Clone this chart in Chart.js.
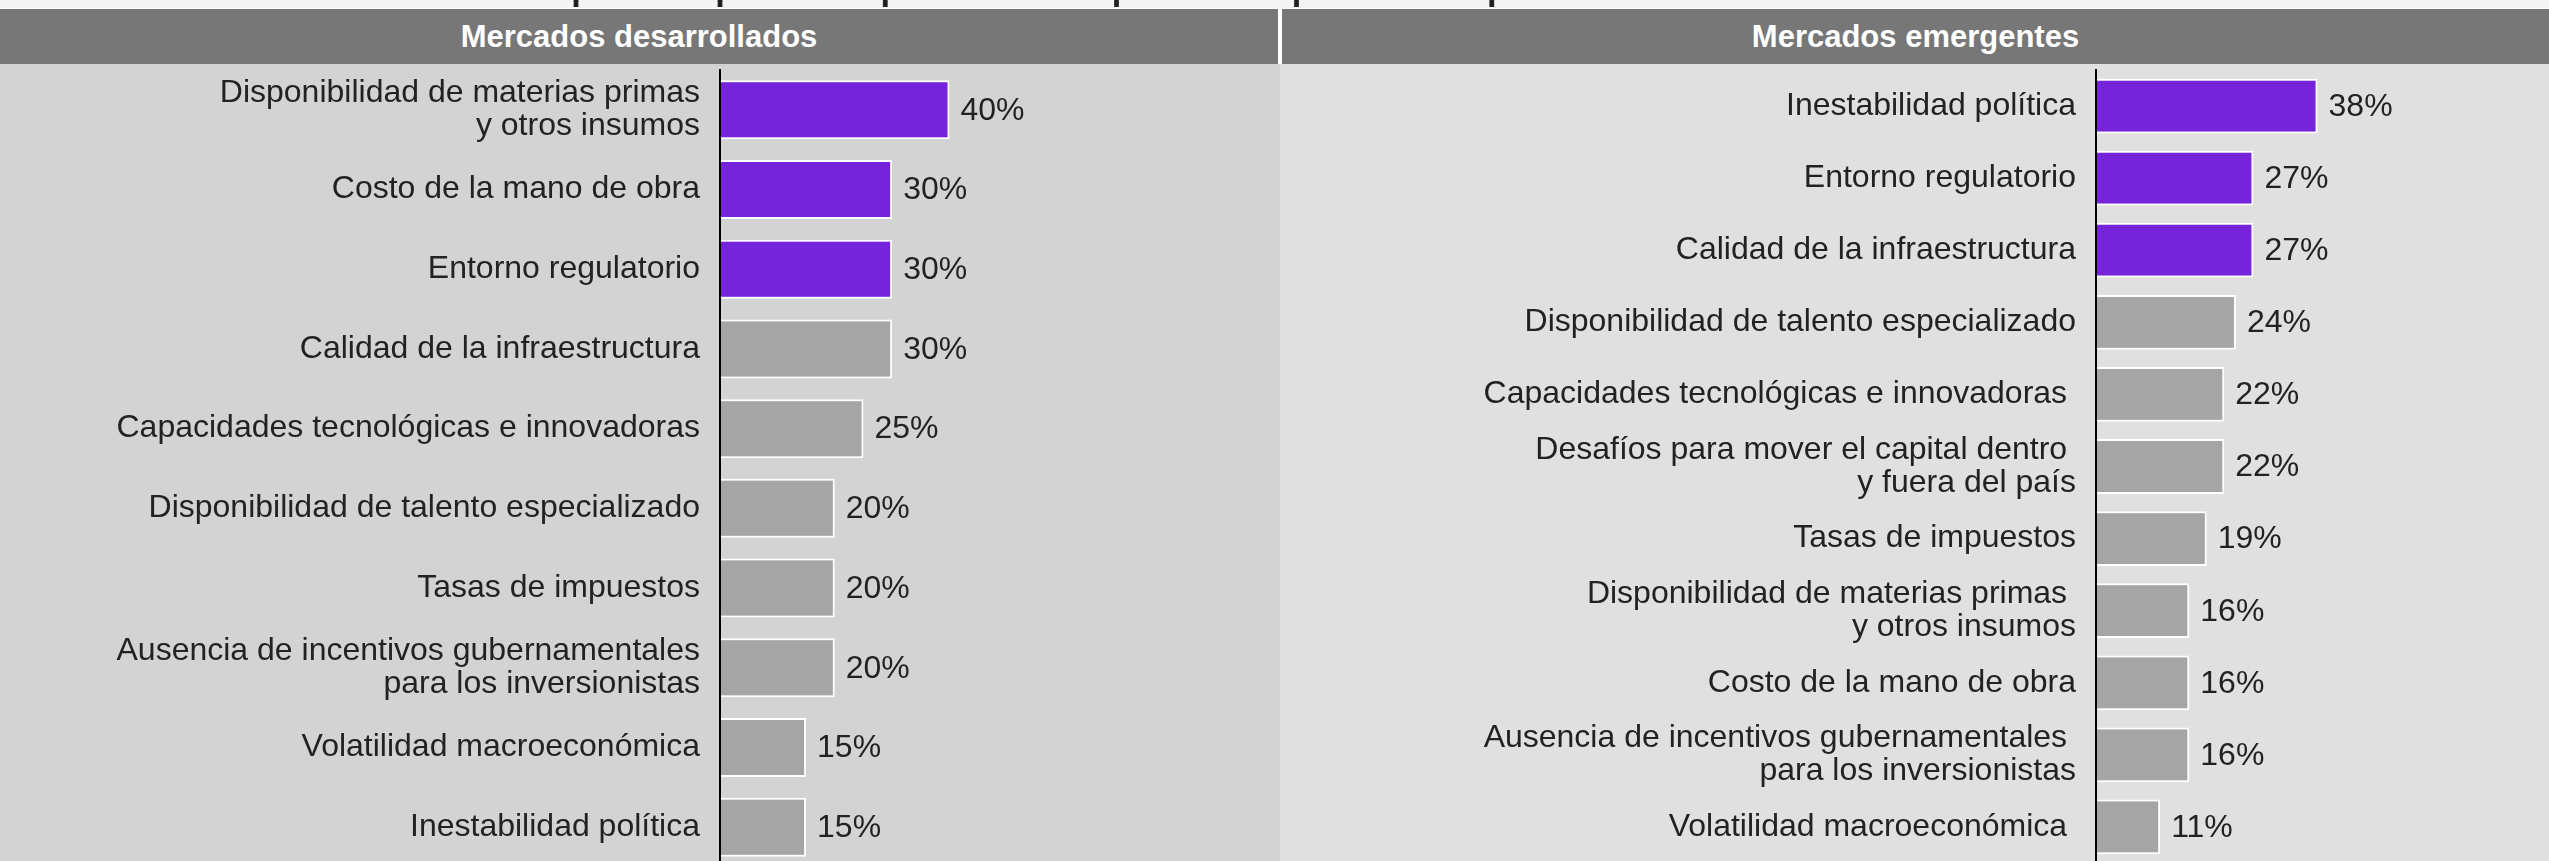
<!DOCTYPE html>
<html lang="es">
<head>
<meta charset="utf-8">
<script src="https://cdn.jsdelivr.net/npm/chart.js@4.4.1/dist/chart.umd.min.js"></script>
<style>
  html, body { margin: 0; padding: 0; width: 2549px; height: 861px; overflow: hidden; background: #fff; font-family: "Liberation Sans", Arial, sans-serif; }
  #strip { position: absolute; left: 0; top: 0; width: 2549px; height: 8px; background: #f4f4f4; overflow: hidden; }
  #title { position: absolute; left: 435px; top: -50px; font-size: 54px; line-height: 54px; font-weight: normal; color: #222; white-space: nowrap; }
  .head { position: absolute; top: 9px; height: 55px; background: #777; color: #fff; font-weight: bold; font-size: 31px; line-height: 55px; text-align: center; }
  #headL { left: 0; width: 1278px; }
  #headR { left: 1282px; width: 1267px; }
  .panel { position: absolute; top: 64px; height: 797px; overflow: hidden; }
  #panelL { left: 0; width: 1280px; background: #d3d3d3; }
  #panelR { left: 1280px; width: 1269px; background: #e0e0e0; }
  #boxL { position: relative; width: 1280px; height: 803px; }
  #boxR { position: relative; width: 1269px; height: 799px; }
</style>
</head>
<body>
<div id="strip"><div id="title">Principales preocupaciones para expandir operaciones</div></div>
<div class="head" id="headL">Mercados desarrollados</div>
<div class="head" id="headR">Mercados emergentes</div>
<div class="panel" id="panelL"><div id="boxL"><canvas id="leftChart"></canvas></div></div>
<div class="panel" id="panelR"><div id="boxR"><canvas id="rightChart"></canvas></div></div>
<script>
// Mercados desarrollados
const leftCategories = [
  ['Disponibilidad de materias primas', 'y otros insumos'],
  'Costo de la mano de obra',
  'Entorno regulatorio',
  'Calidad de la infraestructura',
  'Capacidades tecnológicas e innovadoras',
  'Disponibilidad de talento especializado',
  'Tasas de impuestos',
  ['Ausencia de incentivos gubernamentales', 'para los inversionistas'],
  'Volatilidad macroeconómica',
  'Inestabilidad política'
];
const leftValues = [40, 30, 30, 30, 25, 20, 20, 20, 15, 15];

// Mercados emergentes
const rightCategories = [
  'Inestabilidad política',
  'Entorno regulatorio',
  'Calidad de la infraestructura',
  'Disponibilidad de talento especializado',
  'Capacidades tecnológicas e innovadoras ',
  ['Desafíos para mover el capital dentro ', 'y fuera del país'],
  'Tasas de impuestos',
  ['Disponibilidad de materias primas ', 'y otros insumos'],
  'Costo de la mano de obra',
  ['Ausencia de incentivos gubernamentales ', 'para los inversionistas'],
  'Volatilidad macroeconómica '
];
const rightValues = [38, 27, 27, 24, 22, 22, 19, 16, 16, 16, 11];

const PURPLE = '#7623dc';
const GREY = '#a5a5a5';
const FONT = '"Liberation Sans", Arial, sans-serif';

// draws "40%" next to each bar
const valueLabels = {
  id: 'valueLabels',
  afterDatasetsDraw(chart) {
    const ctx = chart.ctx;
    const ds = chart.data.datasets[0];
    ctx.save();
    ctx.font = '32px ' + FONT;
    ctx.fillStyle = '#222';
    ctx.textBaseline = 'middle';
    chart.getDatasetMeta(0).data.forEach((bar, i) => {
      ctx.fillText(ds.data[i] + '%', bar.x + 11, bar.y + 1);
    });
    ctx.restore();
  }
};

function makeChart(id, labels, values, axisWidth, xMax, barPct) {
  return new Chart(document.getElementById(id).getContext('2d'), {
    type: 'bar',
    data: {
      labels: labels,
      datasets: [{
        data: values,
        backgroundColor: ctx => ctx.dataIndex < 3 ? PURPLE : GREY,
        borderColor: '#fff',
        borderWidth: 2,
        borderSkipped: 'start',
        categoryPercentage: 1,
        barPercentage: barPct
      }]
    },
    options: {
      indexAxis: 'y',
      responsive: true,
      maintainAspectRatio: false,
      animation: false,
      layout: { padding: { top: 6, right: 0, bottom: 0, left: 0 } },
      plugins: { legend: { display: false }, tooltip: { enabled: false } },
      scales: {
        x: { display: false, min: 0, max: xMax },
        y: {
          grid: { display: false, drawTicks: false },
          border: { display: true, color: '#000', width: 2, z: 1 },
          ticks: {
            padding: 20,
            color: '#222',
            autoSkip: false,
            font: { family: FONT, size: 32, lineHeight: 1.05 }
          },
          afterFit: scale => {
            scale.width = axisWidth;
            // labels sit inside their bands, no extra room needed
            scale.paddingTop = 0;
            scale.paddingBottom = 0;
          }
        }
      }
    },
    plugins: [valueLabels]
  });
}

makeChart('leftChart', leftCategories, leftValues, 720, 97.6, 0.74);
makeChart('rightChart', rightCategories, rightValues, 816, 77.7, 0.76);
</script>
</body>
</html>
